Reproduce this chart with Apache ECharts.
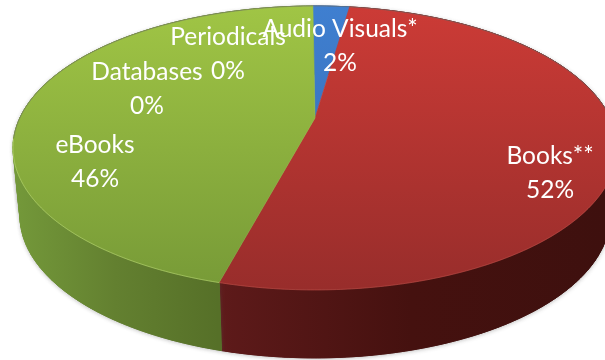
<!DOCTYPE html>
<html><head><meta charset="utf-8">
<style>html,body{margin:0;padding:0;background:#fff}#c{width:605px;height:360px}</style>
<script src="https://cdn.jsdelivr.net/npm/echarts@6/dist/echarts.min.js"></script>
</head><body><div id="c"></div>
<script>
const categories = ['Audio Visuals*', 'Books**', 'eBooks', 'Databases', 'Periodicals'];
const percents = [2.4, 51.9, 45.7, 0, 0];

const GEO = {ax: 315, ay: 118, cx: 315, top: 6, rx: 302, depth: 68, bottomScale: 296 / 303, k: 0.211, startDeg: -0.5};
GEO.A = GEO.rx * Math.sqrt(1 - GEO.k * GEO.k);
GEO.B = (GEO.ay - GEO.top) * (1 + GEO.k);
const labelPlace = [
  {x: 340, y: 46}, {x: 550, y: 173}, {x: 95, y: 162}, {x: 147, y: 89}, {x: 228, y: 54}
];
const faceColors = [
  ['#3f7fd0', '#3569b0'], ['#cc3b36', '#982d2b'], ['#a0c545', '#779a37'], ['#888', '#888'], ['#888', '#888']
];
const total = percents.reduce((a, b) => a + b, 0);
const starts = []; percents.reduce((acc, v, i) => { starts[i] = acc; return acc + v; }, 0);
function theta(p) { return p / total * Math.PI * 2 + GEO.startDeg * Math.PI / 180; }
function rim(t) {
  const u = Math.sin(t), v = Math.cos(t), w = 1 + GEO.k * v;
  return [GEO.ax + GEO.A * u / w, GEO.ay - GEO.B * v / w];
}
function base(t) {
  const p = rim(t);
  return [GEO.cx + (p[0] - GEO.cx) * GEO.bottomScale, p[1] + GEO.depth];
}
function arc(fn, a, b) {
  const pts = [], n = Math.max(2, Math.ceil((b - a) / 0.01));
  for (let i = 0; i <= n; i++) pts.push(fn(a + (b - a) * i / n));
  return pts;
}
function hGrad(x0, x1, stops) {
  return new echarts.graphic.LinearGradient(x0, 0, x1, 0, stops.map((c, i) => ({offset: i / (stops.length - 1), color: c})), true);
}
function vGrad(c) {
  return new echarts.graphic.LinearGradient(0, 6, 0, 290, [{offset: 0, color: c[0]}, {offset: 1, color: c[1]}], true);
}
function wallFill(i) {
  if (i === 1) return hGrad(218, 605, ['#5e1a1a', '#45110f', '#3e100e']);
  if (i === 2) return hGrad(13, 218, ['#74993a', '#638030', '#567028']);
  return '#27507f';
}
function wallItem(params, api) {
  const i = params.dataIndex, v = api.value(0);
  if (!v) return {type: 'group', children: []};
  const a = theta(starts[i]), b = theta(starts[i] + v);
  const fill = wallFill(i);
  const quads = [];
  const n = Math.ceil((b - a) / 0.03);
  for (let j = 0; j < n; j++) {
    const t0 = a + (b - a) * j / n, t1 = a + (b - a) * (j + 1) / n;
    quads.push([rim(t0), rim(t1), base(t1), base(t0)]);
  }
  const children = [];
  quads.forEach(points => children.push({type: 'polygon', shape: {points},
    style: {fill: '#888', shadowBlur: 4, shadowOffsetY: 1, shadowColor: 'rgba(90,90,90,0.45)'}}));
  quads.forEach(points => children.push({type: 'polygon', shape: {points},
    style: {fill, stroke: fill, lineWidth: 0.8}}));
  const whole = arc(rim, a, b).concat(arc(base, a, b).reverse());
  children.push({type: 'polygon', shape: {points: whole}, style: {fill, stroke: fill, lineWidth: 0.8}});
  return {type: 'group', children};
}
function faceItem(params, api) {
  const i = params.dataIndex, v = api.value(0);
  const children = [];
  if (v) {
    const a = theta(starts[i]), b = theta(starts[i] + v);
    const g = vGrad(faceColors[i]);
    const pts = [[GEO.ax, GEO.ay]].concat(arc(rim, a, b));
    children.push({type: 'polygon', shape: {points: pts}, style: {fill: g, stroke: g, lineWidth: 0.6}});
    const n = Math.max(2, Math.ceil((b - a) / 0.01));
    const front = [], back = [];
    for (let j = 0; j <= n; j++) {
      const t = a + (b - a) * j / n;
      (Math.cos(t) < -0.15 ? front : back).push(rim(t));
    }
    if (front.length > 1) children.push({type: 'polyline', shape: {points: front},
      style: {fill: null, stroke: i === 1 ? 'rgba(225,110,100,0.3)' : 'rgba(190,220,120,0.55)', lineWidth: 1}});
    if (back.length > 1) {
      const split = back.findIndex((p, j) => j > 0 && Math.abs(p[1] - back[j - 1][1]) > 30);
      const parts = split > 0 ? [back.slice(0, split), back.slice(split)] : [back];
      parts.forEach(points => { if (points.length > 1) children.push({type: 'polyline', shape: {points},
        style: {fill: null, stroke: 'rgba(110,110,105,0.55)', lineWidth: 1}}); });
    }
  }
  const l = labelPlace[i];
  children.push({type: 'text', z2: 10, style: {text: categories[i] + '\n' + Math.round(percents[i]) + '%', x: l.x, y: l.y,
    align: 'center', verticalAlign: 'middle', fill: '#fff', font: '24.5px Lato', lineHeight: 34}});
  return {type: 'group', children};
}
const rows = percents.map(v => [v]);
const chart = echarts.init(document.getElementById('c'), null, {renderer: 'canvas'});
chart.setOption({
  animation: false,
  backgroundColor: '#fff',
  series: [
    {type: 'custom', coordinateSystem: 'none', silent: true, z: 1, data: rows, renderItem: wallItem, clip: false},
    {type: 'custom', coordinateSystem: 'none', silent: true, z: 2, data: rows, renderItem: faceItem, clip: false}
  ]
});
</script></body></html>
